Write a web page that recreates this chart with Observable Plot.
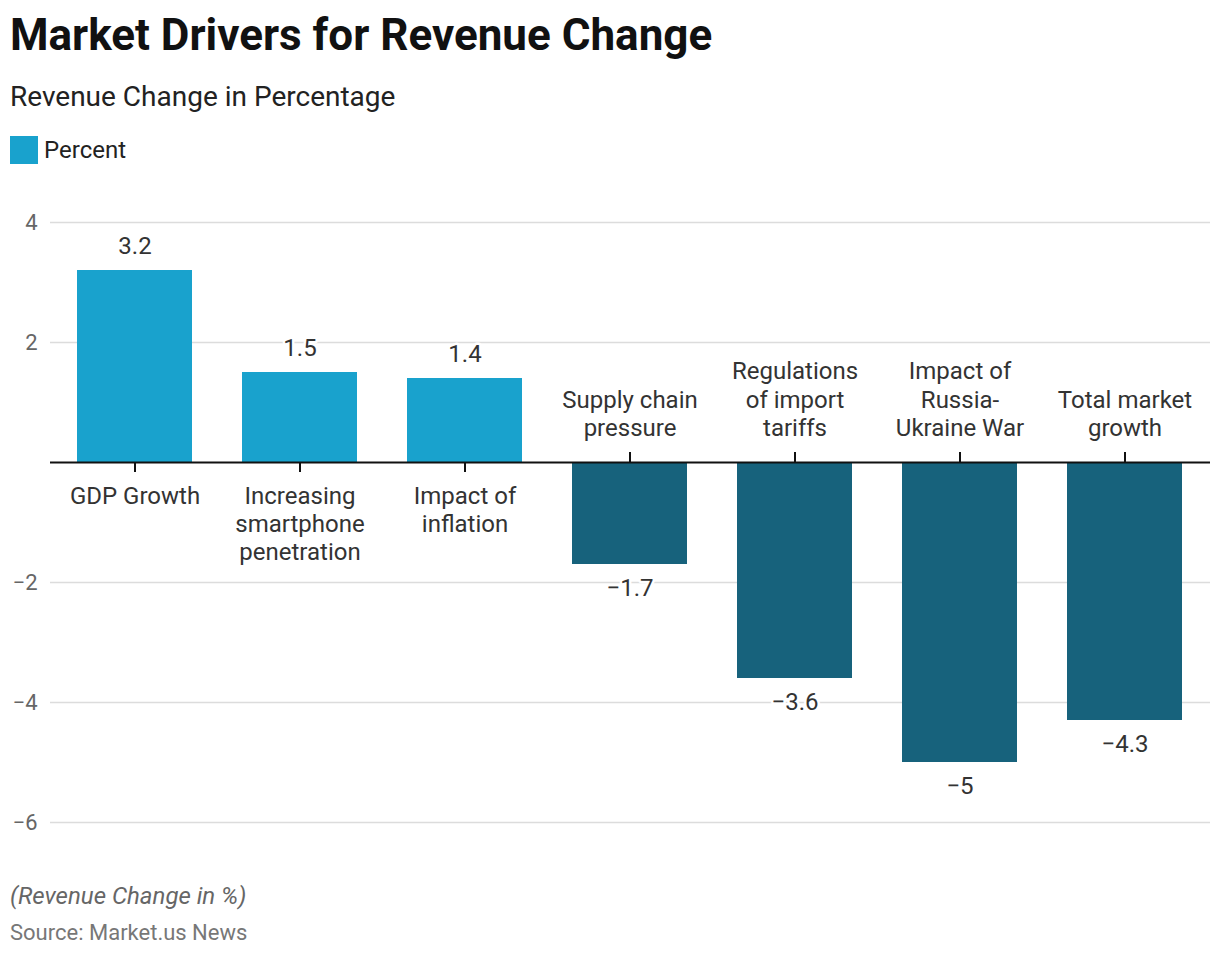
<!DOCTYPE html>
<html>
<head>
<meta charset="utf-8">
<script src="https://cdn.jsdelivr.net/npm/d3@7"></script>
<script src="https://cdn.jsdelivr.net/npm/@observablehq/plot@0.6"></script>
<style>
  html, body { margin: 0; padding: 0; background: #fff; }
  body { width: 1220px; font-family: Roboto, "Noto Sans", sans-serif; color: #222; }
  .title { font-weight: 700; font-size: 44px; line-height: 50px; margin: 10px 0 0 10px; color: #111; }
  .subtitle { font-size: 28px; line-height: 32px; margin: 21px 0 0 10px; color: #222; }
  .legend { display: flex; align-items: center; margin: 23px 0 0 10px; height: 28px; font-size: 24px; color: #222; }
  .legend .sw { width: 28px; height: 28px; background: #19a2cd; margin-right: 6px; }
  #chart { margin-top: 26px; height: 652px; }
  .caption { font-style: italic; font-size: 24px; line-height: 28px; color: #666; margin: 40px 0 0 10px; }
  .source { font-size: 22px; line-height: 28px; color: #777; margin: 9px 0 0 10px; }
</style>
</head>
<body>
<div class="title">Market Drivers for Revenue Change</div>
<div class="subtitle">Revenue Change in Percentage</div>
<div class="legend"><div class="sw"></div><span>Percent</span></div>
<div id="chart"></div>
<div class="caption">(Revenue Change in %)</div>
<div class="source">Source: Market.us News</div>
<script>
const categories = [
  "GDP Growth",
  "Increasing\nsmartphone\npenetration",
  "Impact of\ninflation",
  "Supply chain\npressure",
  "Regulations\nof import\ntariffs",
  "Impact of\nRussia-\nUkraine War",
  "Total market\ngrowth"
];
const values = [3.2, 1.5, 1.4, -1.7, -3.6, -5, -4.3];
const yTicks = [-6, -4, -2, 2, 4];

const POS = "#19a2cd";
const NEG = "#17627c";

const data = categories.map((c, i) => ({cat: c, value: values[i]}));
const pos = data.filter(d => d.value >= 0);
const neg = data.filter(d => d.value < 0);
const fmt = v => (v < 0 ? "\u2212" + Math.abs(v) : String(v));

const textStyle = {fontSize: 24, fill: "#333", stroke: "#fff", strokeWidth: 5, paintOrder: "stroke"};

const chart = Plot.plot({
  width: 1220,
  height: 652,
  marginTop: 32,
  marginBottom: 20,
  marginLeft: 50,
  marginRight: 10,
  style: {fontFamily: "Roboto, sans-serif", background: "#fff"},
  x: {type: "band", domain: categories, paddingInner: 0.3, paddingOuter: 0.15, axis: null},
  y: {domain: [-6, 4], axis: null},
  marks: [
    Plot.gridY(yTicks, {stroke: "#dcdcdc", strokeOpacity: 1, strokeWidth: 1.5}),
    Plot.axisY(yTicks, {label: null, tickSize: 0, tickPadding: 13, fontSize: 22, color: "#666", tickFormat: fmt}),
    Plot.barY(data, {x: "cat", y: "value", fill: d => (d.value >= 0 ? POS : NEG)}),
    Plot.ruleY([0], {stroke: "#111", strokeWidth: 2}),
    Plot.ruleX(pos, {x: "cat", y1: 0, y2: 0, insetTop: 0, insetBottom: -10, stroke: "#111", strokeWidth: 2}),
    Plot.ruleX(neg, {x: "cat", y1: 0, y2: 0, insetTop: -10, insetBottom: 0, stroke: "#111", strokeWidth: 2}),
    Plot.text(pos, {x: "cat", y: 0, text: "cat", dy: 22, lineAnchor: "top", lineHeight: 1.167, ...textStyle}),
    Plot.text(neg, {x: "cat", y: 0, text: "cat", dy: -27, lineAnchor: "bottom", lineHeight: 1.167, ...textStyle}),
    Plot.text(pos, {x: "cat", y: "value", text: d => fmt(d.value), dy: -17, lineAnchor: "bottom", ...textStyle}),
    Plot.text(neg, {x: "cat", y: "value", text: d => fmt(d.value), dy: 14, lineAnchor: "top", ...textStyle})
  ]
});
document.getElementById("chart").appendChild(chart);
</script>
</body>
</html>
